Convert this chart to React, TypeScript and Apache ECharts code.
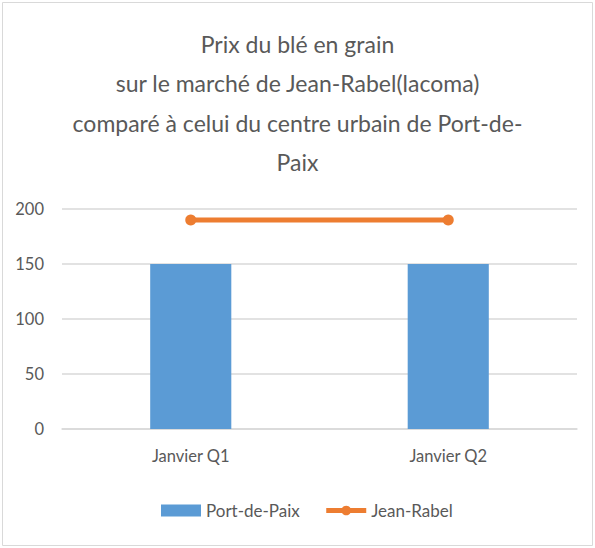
import React, { useEffect, useRef } from "react";
import * as echarts from "echarts";

const categories = ["Janvier Q1", "Janvier Q2"];
const portDePaix = [150, 150];
const jeanRabel = [190, 190];
const titleLines = [
  "Prix du blé en grain",
  "sur le marché de Jean-Rabel(lacoma)",
  "comparé à celui du centre urbain de Port-de-",
  "Paix",
];

const FONT = "Lato, 'Open Sans', sans-serif";
const TXT = "#595959";

export default function App() {
  const ref = useRef<HTMLDivElement>(null);
  useEffect(() => {
    document.body.style.margin = "0";
    const chart = echarts.init(ref.current!, null, { renderer: "svg" });
    chart.setOption({
      animation: false,
      backgroundColor: "#ffffff",
      title: {
        text: titleLines.join("\n"),
        left: "center",
        top: 24,
        padding: 0,
        textStyle: {
          fontFamily: FONT,
          fontSize: 23,
          fontWeight: "normal",
          color: TXT,
          lineHeight: 39.5,
        },
      },
      graphic: [
        {
          type: "rect",
          shape: { x: 2.5, y: 2.5, width: 590, height: 543 },
          style: { fill: "none", stroke: "#d9d9d9", lineWidth: 1 },
          silent: true,
        },
      ],
      legend: {
        bottom: 29,
        left: 161,
        padding: 0,
        itemWidth: 40,
        itemHeight: 12,
        itemGap: 24,
        textStyle: { fontFamily: FONT, fontSize: 17, color: TXT },
        data: [
          { name: "Port-de-Paix", icon: "rect" },
          { name: "Jean-Rabel", lineStyle: { width: 5 } },
        ],
      },
      grid: { left: 62, right: 18, top: 209, bottom: 119 },
      xAxis: {
        type: "category",
        data: categories,
        axisLine: { lineStyle: { color: "#d9d9d9", width: 1.5 } },
        axisTick: { show: false },
        axisLabel: {
          fontFamily: FONT,
          fontSize: 16.5,
          color: TXT,
          margin: 18,
        },
      },
      yAxis: {
        type: "value",
        min: 0,
        max: 200,
        interval: 50,
        axisLine: { show: false },
        axisTick: { show: false },
        splitLine: { lineStyle: { color: "#d9d9d9", width: 1.5 } },
        axisLabel: {
          fontFamily: FONT,
          fontSize: 16.5,
          color: TXT,
          margin: 18,
        },
      },
      series: [
        {
          name: "Port-de-Paix",
          type: "bar",
          data: portDePaix,
          barWidth: "31.5%",
          itemStyle: { color: "#5b9bd5" },
        },
        {
          name: "Jean-Rabel",
          type: "line",
          data: jeanRabel,
          symbol: "circle",
          symbolSize: 11,
          lineStyle: { color: "#ed7d31", width: 5 },
          itemStyle: { color: "#ed7d31" },
        },
      ],
    });
    return () => chart.dispose();
  }, []);
  return <div ref={ref} style={{ width: 595, height: 548 }} />;
}
